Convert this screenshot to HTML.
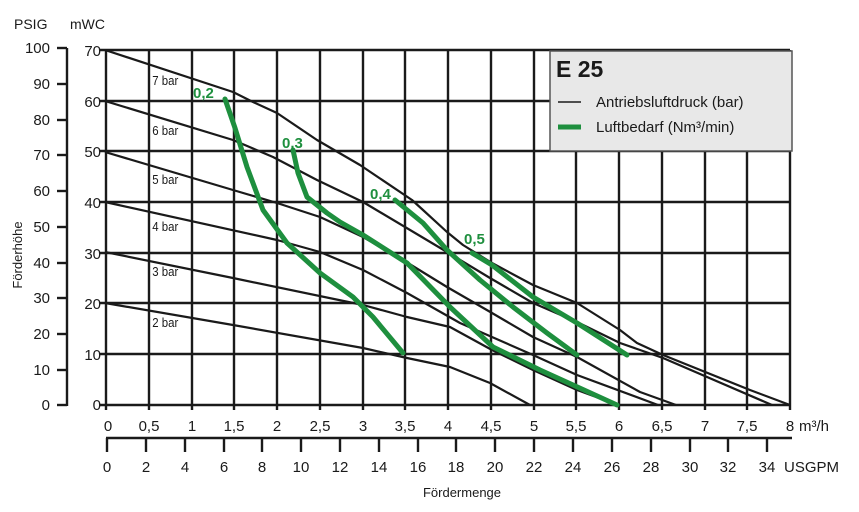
<!DOCTYPE html><html><head><style>body{margin:0;background:#fff}svg{display:block}</style></head><body>
<svg width="859" height="512" xmlns="http://www.w3.org/2000/svg" font-family="Liberation Sans, sans-serif">
<g stroke="#1a1a1a" stroke-width="2.4">
<line x1="100" y1="50" x2="790" y2="50"/><line x1="100" y1="101" x2="790" y2="101"/><line x1="100" y1="151" x2="790" y2="151"/><line x1="100" y1="202" x2="790" y2="202"/><line x1="100" y1="253" x2="790" y2="253"/><line x1="100" y1="303" x2="790" y2="303"/><line x1="100" y1="354" x2="790" y2="354"/><line x1="100" y1="405" x2="791" y2="405"/>
<line x1="106" y1="50" x2="106" y2="410"/><line x1="149" y1="50" x2="149" y2="410"/><line x1="192" y1="50" x2="192" y2="410"/><line x1="234" y1="50" x2="234" y2="410"/><line x1="277" y1="50" x2="277" y2="410"/><line x1="320" y1="50" x2="320" y2="410"/><line x1="363" y1="50" x2="363" y2="410"/><line x1="405" y1="50" x2="405" y2="410"/><line x1="448" y1="50" x2="448" y2="410"/><line x1="491" y1="50" x2="491" y2="410"/><line x1="534" y1="50" x2="534" y2="410"/><line x1="576" y1="50" x2="576" y2="410"/><line x1="619" y1="50" x2="619" y2="410"/><line x1="662" y1="50" x2="662" y2="410"/><line x1="705" y1="50" x2="705" y2="410"/><line x1="747" y1="50" x2="747" y2="410"/><line x1="790" y1="50" x2="790" y2="410"/>
<line x1="67" y1="48" x2="67" y2="406"/>
<line x1="57" y1="48" x2="67" y2="48"/><line x1="57" y1="84" x2="67" y2="84"/><line x1="57" y1="120" x2="67" y2="120"/><line x1="57" y1="155" x2="67" y2="155"/><line x1="57" y1="191" x2="67" y2="191"/><line x1="57" y1="227" x2="67" y2="227"/><line x1="57" y1="263" x2="67" y2="263"/><line x1="57" y1="298" x2="67" y2="298"/><line x1="57" y1="334" x2="67" y2="334"/><line x1="57" y1="370" x2="67" y2="370"/><line x1="57" y1="405" x2="67" y2="405"/>
<line x1="106" y1="438" x2="792" y2="438"/>
<line x1="107" y1="438" x2="107" y2="452"/><line x1="146" y1="438" x2="146" y2="452"/><line x1="185" y1="438" x2="185" y2="452"/><line x1="224" y1="438" x2="224" y2="452"/><line x1="262" y1="438" x2="262" y2="452"/><line x1="301" y1="438" x2="301" y2="452"/><line x1="340" y1="438" x2="340" y2="452"/><line x1="379" y1="438" x2="379" y2="452"/><line x1="418" y1="438" x2="418" y2="452"/><line x1="456" y1="438" x2="456" y2="452"/><line x1="495" y1="438" x2="495" y2="452"/><line x1="534" y1="438" x2="534" y2="452"/><line x1="573" y1="438" x2="573" y2="452"/><line x1="612" y1="438" x2="612" y2="452"/><line x1="651" y1="438" x2="651" y2="452"/><line x1="690" y1="438" x2="690" y2="452"/><line x1="728" y1="438" x2="728" y2="452"/><line x1="767" y1="438" x2="767" y2="452"/>
</g>
<g fill="none" stroke="#1a1a1a" stroke-width="2.2" stroke-linejoin="round">
<path d="M105,50 L233,92 L253,102 L277,113 L317,140 L360,165 L412,200 L423,210 L447,232 L463,245 L492,263 L533,285 L577,303 L620,330 L637,343 L663,355 L750,390 L790,405"/>
<path d="M105,101 L233,140 L273,157 L317,180 L363,202 L447,252 L490,278 L533,303 L577,322 L620,343 L663,358 L772,405"/>
<path d="M105,152 L233,190 L277,203 L320,217 L363,237 L403,260 L447,287 L492,313 L533,337 L577,357 L640,392 L676,405"/>
<path d="M105,202 L277,240 L320,252 L363,270 L407,293 L460,323 L533,355 L577,375 L658,405"/>
<path d="M105,252 L233,278 L363,305 L407,317 L450,327 L492,350 L533,370 L577,390 L618,405"/>
<path d="M105,303 L233,325 L363,348 L407,358 L450,367 L490,383 L530,405"/>
</g>
<g fill="none" stroke="#1e8f3e" stroke-width="5" stroke-linecap="round" stroke-linejoin="round">
<path d="M225,99 L235,128 L247,167 L263,210 L287,243 L320,273 L353,297 L373,317 L403,353"/>
<path d="M293,150 L298,173 L307,197 L327,213 L340,222 L363,235 L407,263 L450,307 L493,347 L540,370 L617,405"/>
<path d="M395,200 L423,223 L447,250 L480,280 L513,307 L547,333 L577,355"/>
<path d="M472,253 L492,265 L533,297 L577,323 L627,355"/>
</g>
<g fill="#1e8f3e" font-weight="bold" font-size="15">
<text x="193" y="98">0,2</text><text x="282" y="148">0,3</text><text x="370" y="199">0,4</text><text x="464" y="244">0,5</text>
</g>
<g font-size="13" fill="#1a1a1a" transform="scale(0.88,1)">
<text x="173" y="85">7 bar</text><text x="173" y="135">6 bar</text><text x="173" y="184">5 bar</text><text x="173" y="231">4 bar</text><text x="173" y="276">3 bar</text><text x="173" y="327">2 bar</text>
</g>
<rect x="550" y="51" width="242" height="100" fill="#e8e8e8" stroke="#555" stroke-width="1.5"/>
<text x="556" y="77" font-size="23" font-weight="bold" fill="#1a1a1a">E 25</text>
<line x1="558" y1="102" x2="581" y2="102" stroke="#1a1a1a" stroke-width="1.5"/>
<line x1="558" y1="127" x2="581" y2="127" stroke="#1e8f3e" stroke-width="5"/>
<text x="596" y="107" font-size="15" fill="#1a1a1a">Antriebsluftdruck (bar)</text>
<text x="596" y="132" font-size="15" fill="#1a1a1a">Luftbedarf (Nm³/min)</text>
<g font-size="14" fill="#1a1a1a"><text x="14" y="29">PSIG</text><text x="70" y="29">mWC</text></g>
<g font-size="15" fill="#1a1a1a" text-anchor="end">
<text x="50" y="53">100</text><text x="50" y="89">90</text><text x="50" y="125">80</text><text x="50" y="160">70</text><text x="50" y="196">60</text><text x="50" y="232">50</text><text x="50" y="268">40</text><text x="50" y="303">30</text><text x="50" y="339">20</text><text x="50" y="375">10</text><text x="50" y="410">0</text>
<text x="101" y="56">70</text><text x="101" y="107">60</text><text x="101" y="157">50</text><text x="101" y="208">40</text><text x="101" y="259">30</text><text x="101" y="309">20</text><text x="101" y="360">10</text><text x="101" y="410">0</text>
</g>
<g font-size="15" fill="#1a1a1a" text-anchor="middle">
<text x="108" y="431">0</text><text x="149" y="431">0,5</text><text x="192" y="431">1</text><text x="234" y="431">1,5</text><text x="277" y="431">2</text><text x="320" y="431">2,5</text><text x="363" y="431">3</text><text x="405" y="431">3,5</text><text x="448" y="431">4</text><text x="491" y="431">4,5</text><text x="534" y="431">5</text><text x="576" y="431">5,5</text><text x="619" y="431">6</text><text x="662" y="431">6,5</text><text x="705" y="431">7</text><text x="747" y="431">7,5</text><text x="790" y="431">8</text>
<text x="107" y="472">0</text><text x="146" y="472">2</text><text x="185" y="472">4</text><text x="224" y="472">6</text><text x="262" y="472">8</text><text x="301" y="472">10</text><text x="340" y="472">12</text><text x="379" y="472">14</text><text x="418" y="472">16</text><text x="456" y="472">18</text><text x="495" y="472">20</text><text x="534" y="472">22</text><text x="573" y="472">24</text><text x="612" y="472">26</text><text x="651" y="472">28</text><text x="690" y="472">30</text><text x="728" y="472">32</text><text x="767" y="472">34</text>
</g>
<g font-size="15" fill="#1a1a1a"><text x="799" y="431">m³/h</text><text x="784" y="472">USGPM</text></g>
<text x="462" y="497" font-size="13" fill="#1a1a1a" text-anchor="middle">Fördermenge</text>
<text transform="translate(22,255) rotate(-90)" font-size="13" fill="#1a1a1a" text-anchor="middle">Förderhöhe</text>
</svg></body></html>
